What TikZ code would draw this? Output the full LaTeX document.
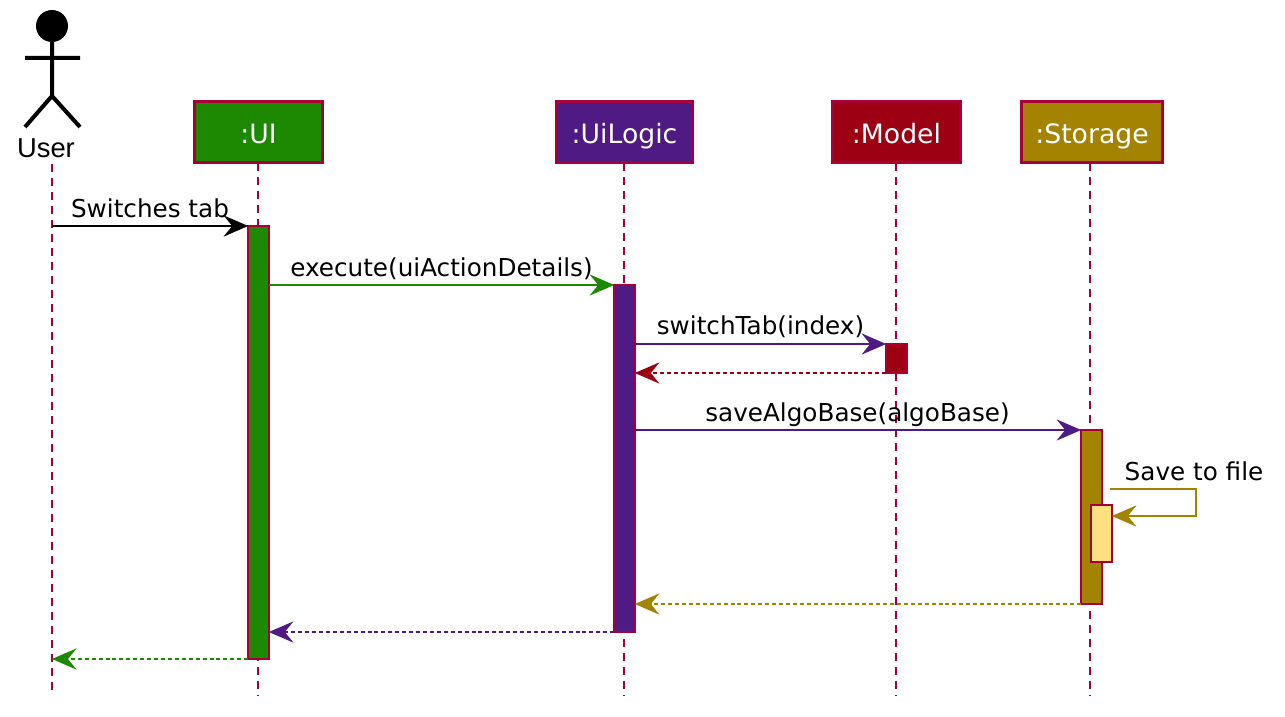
\documentclass[tikz,border=0pt]{standalone}
\usepackage{fontspec}
\setmainfont{DejaVu Sans}
\newfontfamily\actorfont{Liberation Sans}
\usetikzlibrary{arrows.meta,positioning}
\definecolor{borderRed}{HTML}{A80036}
\definecolor{uiGreen}{HTML}{1D8900}
\definecolor{logicPurple}{HTML}{4F1A84}
\definecolor{modelRed}{HTML}{9D0012}
\definecolor{storeGold}{HTML}{A38300}
\definecolor{fileYellow}{HTML}{FFE080}
\tikzset{
  headbox/.style={draw=borderRed,line width=2.2pt,fill=#1,text=white,inner sep=0pt,outer sep=0pt,minimum height=46pt,text height=16.5pt,text depth=0pt,font=\fontsize{20}{24}\selectfont},
  activebar/.style={draw=borderRed,line width=1.4pt,fill=#1,inner sep=0pt,outer sep=0pt,minimum width=15.5pt},
  lifeline/.style={draw=borderRed,line width=1.5pt,dash pattern=on 6pt off 4.5pt},
  callmsg/.style={draw=#1,line width=1.3pt,-{Stealth[length=18.5pt,width=16pt,inset=6.5pt,line width=0pt,color=#1]}},
  backmsg/.style={callmsg=#1,dash pattern=on 3pt off 2.2pt},
  msgtext/.style={anchor=base,inner sep=0pt,font=\fontsize{18.5}{22}\selectfont},
}
\begin{document}
\begin{tikzpicture}[x=0.75pt,y=-0.75pt]
  \useasboundingbox (0,0) rectangle (1285,717);
  % lifelines
  \foreach \name/\x/\top in {user/52/164,ui/258/163,logic/624/163,model/896/163,store/1090/163} {
    \coordinate (\name Top) at (\x,\top);
    \coordinate (\name End) at (\x,696);
    \draw[lifeline] (\name Top) -- (\name End);
  }
  % actor
  \fill (52,26) circle [radius=16];
  \draw[line width=3pt] (52,40) -- (52,96) (25,58) -- (80,58) (25,127) -- (52,96) -- (80,127);
  \node[inner sep=0pt,font=\actorfont\fontsize{20.5}{24}\selectfont] (userName) at (46,148) {User};
  % participants
  \node[headbox=uiGreen,minimum width=96pt] (uiBox) at (258.5,132) {:UI};
  \node[headbox=logicPurple,minimum width=102pt] (logicBox) at (624.5,132) {:UiLogic};
  \node[headbox=modelRed,minimum width=96pt] (modelBox) at (896.5,132) {:Model};
  \node[headbox=storeGold,minimum width=106pt] (storeBox) at (1092,132) {:Storage};
  % activation bars
  \node[activebar=uiGreen,minimum height=324.75pt] (uiBar) at (258.5,442.5) {};
  \node[activebar=logicPurple,minimum height=260.25pt] (logicBar) at (624.5,458.5) {};
  \node[activebar=modelRed,minimum height=21.75pt] (modelBar) at (896.5,358.5) {};
  \node[activebar=storeGold,minimum height=130.5pt] (storeBar) at (1091.5,517) {};
  \node[activebar=fileYellow,minimum height=42.75pt] (fileBar) at (1101.5,533.5) {};
  % messages
  \coordinate (userCall) at (52,226);
  \coordinate (userBack) at (52,659);
  \draw[callmsg=black] (userCall) -- (uiBar.north west);
  \draw[callmsg=uiGreen] (logicBar.north west -| uiBar.east) -- (logicBar.north west);
  \draw[callmsg=logicPurple] (modelBar.north west -| logicBar.east) -- (modelBar.north west);
  \draw[backmsg=modelRed] (modelBar.south west) -- (modelBar.south west -| logicBar.east);
  \draw[callmsg=logicPurple] (storeBar.north west -| logicBar.east) -- (storeBar.north west);
  \coordinate (saveFrom) at (1110,489);
  \coordinate (saveTurn) at (1196,516);
  \draw[callmsg=storeGold] (saveFrom) -| (saveTurn) -- (saveTurn -| fileBar.east);
  \draw[backmsg=storeGold] (storeBar.south west) -- (storeBar.south west -| logicBar.east);
  \draw[backmsg=logicPurple] (logicBar.south west) -- (logicBar.south west -| uiBar.east);
  \draw[backmsg=uiGreen] (uiBar.south west) -- (userBack);
  % labels
  \node[msgtext] (tabText) at (150,217) {Switches tab};
  \node[msgtext] (executeText) at (441.5,276) {execute(uiActionDetails)};
  \node[msgtext] (switchText) at (760.5,334) {switchTab(index)};
  \node[msgtext] (saveText) at (857.5,421) {saveAlgoBase(algoBase)};
  \node[msgtext] (fileText) at (1194,480) {Save to file};
\end{tikzpicture}
\end{document}
